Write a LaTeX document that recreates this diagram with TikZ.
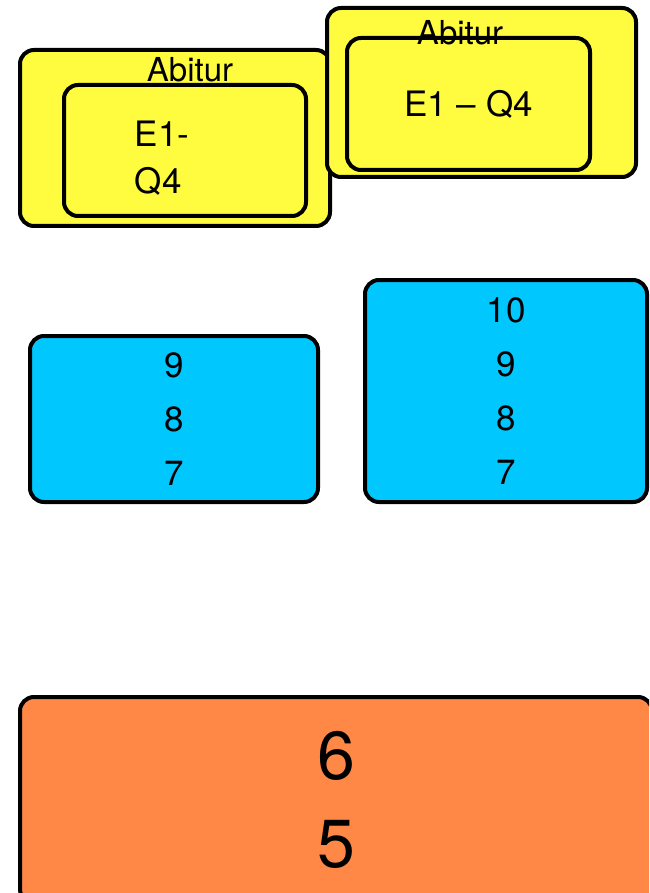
\documentclass[tikz,border=0pt]{standalone}
\usepackage{fontspec}
\setmainfont{TeX Gyre Heros}
\usepackage{tikz}
\definecolor{abiYellow}{HTML}{FFFC3F}
\definecolor{gradeBlue}{HTML}{00C8FF}
\definecolor{gradeOrange}{HTML}{FF8847}

\begin{document}
\begin{tikzpicture}[x=0.5pt,y=-0.5pt,
  box/.style={draw,line width=2pt,rounded corners=7pt,inner sep=0pt,align=center},
  abi/.style={box,fill=abiYellow},
  upper/.style={box,fill=gradeBlue,font=\fontsize{17.5}{27}\selectfont},
  lower/.style={box,fill=gradeOrange,font=\fontsize{34}{44}\selectfont},
  lbl/.style={inner sep=0pt,font=\fontsize{16.5}{23.5}\selectfont}]
\useasboundingbox (0,0) rectangle (649,893);
\clip (0,0) rectangle (649,893);
% Abitur, left and right
\node[abi,minimum width=155pt,minimum height=88pt] (abiL) at (175,138) {};
\node[abi,minimum width=121pt,minimum height=65.5pt] (qualL) at (185,150.5) {};
\node[lbl] (abiLtxt) at (190,70) {Abitur};
\node[lbl,align=left,font=\fontsize{17.5}{23.5}\selectfont] (qualLtxt) at (162,158) {E1-\\Q4};
\node[abi,minimum width=154.5pt,minimum height=84.5pt] (abiR) at (481.5,92.5) {};
\node[abi,minimum width=121.5pt,minimum height=66pt,font=\fontsize{17.5}{23.5}\selectfont] (qualR) at (468.5,104) {E1 -- Q4};
\node[lbl] (abiRtxt) at (460,33) {Abitur};
% Sekundarstufe
\node[upper,minimum width=144pt,minimum height=83pt] (g9) at (174,419) {9\\8\\7};
\node[upper,minimum width=141pt,minimum height=111pt] (g10) at (506,391) {10\\9\\8\\7};
\node[lower,minimum width=316pt,minimum height=103pt] (g6) at (336,800) {6\\5};
\end{tikzpicture}
\end{document}
